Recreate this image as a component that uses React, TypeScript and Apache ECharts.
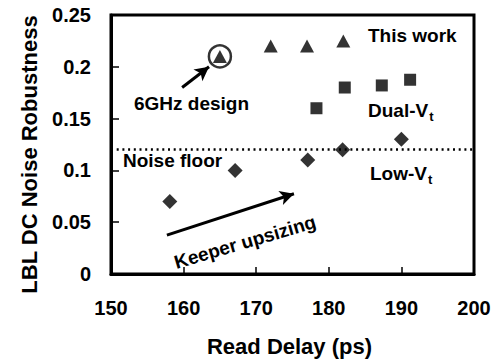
import React, { useEffect, useRef } from "react";
import * as echarts from "echarts";

const xTicks = [150, 160, 170, 180, 190, 200];
const yTicks = [0, 0.05, 0.1, 0.15, 0.2, 0.25];
const thisWork: [number, number][] = [
  [165, 0.21],
  [172, 0.22],
  [177, 0.22],
  [182, 0.225],
];
const dualVt: [number, number][] = [
  [178.3, 0.16],
  [182.2, 0.18],
  [187.3, 0.182],
  [191.2, 0.1875],
];
const lowVt: [number, number][] = [
  [158.1, 0.07],
  [167.1, 0.1],
  [177.1, 0.11],
  [181.9, 0.12],
  [190, 0.13],
];
const highlighted: [number, number][] = [[165, 0.21]];
const noiseFloor = 0.1235;
const arrow6GHz: [number, number][] = [
  [159.8, 0.18],
  [163.5, 0.2],
];
const arrowKeeper: [number, number][] = [
  [157.7, 0.0375],
  [175.2, 0.0775],
];

const FONT = "'Liberation Sans', Arial, Helvetica, sans-serif";

export default function App() {
  const ref = useRef<HTMLDivElement>(null);
  useEffect(() => {
    if (!ref.current) return;
    const chart = echarts.init(ref.current, undefined, { renderer: "svg" });
    const txt = (x: number, y: number, text: string) => ({
      type: "text",
      x,
      y,
      style: {
        text,
        fill: "#000",
        font: `bold 19px ${FONT}`,
        verticalAlign: "middle",
      },
    });
    const rich = {
      a: { fontSize: 19, fontWeight: "bold", fontFamily: FONT, fill: "#000", lineHeight: 22 },
      b: { fontSize: 13, fontWeight: "bold", fontFamily: FONT, fill: "#000", padding: [12, 0, 0, 1] },
    };
    chart.setOption({
      animation: false,
      grid: {
        left: 111,
        right: 22,
        top: 15,
        bottom: 87,
        show: true,
        borderColor: "#000",
        borderWidth: 3,
      },
      xAxis: {
        type: "value",
        min: xTicks[0],
        max: xTicks[xTicks.length - 1],
        interval: 10,
        name: "Read Delay (ps)",
        nameLocation: "middle",
        nameGap: 61,
        nameTextStyle: { fontSize: 22, fontWeight: "bold", fontFamily: FONT, color: "#000", padding: [0, 6, 0, 0] },
        axisLine: { lineStyle: { color: "#000", width: 3 } },
        axisTick: { inside: true, length: 7, lineStyle: { color: "#000", width: 1.5 } },
        axisLabel: { margin: 24, fontSize: 20, fontWeight: "bold", fontFamily: FONT, color: "#000" },
        splitLine: { show: false },
      },
      yAxis: {
        type: "value",
        min: yTicks[0],
        max: yTicks[yTicks.length - 1],
        interval: 0.05,
        name: "LBL DC Noise Robustness",
        nameLocation: "middle",
        nameGap: 71,
        nameTextStyle: {
          fontSize: 22,
          fontWeight: "bold",
          fontFamily: FONT,
          color: "#000",
          padding: [0, 20, 0, 0],
        },
        axisLine: { lineStyle: { color: "#000", width: 3 } },
        axisTick: { inside: true, length: 8, lineStyle: { color: "#000", width: 1.5 } },
        axisLabel: {
          margin: 20,
          fontSize: 20,
          fontWeight: "bold",
          fontFamily: FONT,
          color: "#000",
          formatter: (v: number) => String(Math.round(v * 100) / 100),
        },
        splitLine: { show: false },
      },
      series: [
        {
          type: "scatter",
          name: "This work",
          data: thisWork,
          symbol: "triangle",
          symbolSize: [14, 13],
          itemStyle: { color: "#000" },
          z: 5,
        },
        {
          type: "scatter",
          name: "Dual-Vt",
          data: dualVt,
          symbol: "rect",
          symbolSize: 12,
          itemStyle: { color: "#000" },
        },
        {
          type: "scatter",
          name: "Low-Vt",
          data: lowVt,
          symbol: "diamond",
          symbolSize: 15,
          itemStyle: { color: "#000" },
          markLine: {
            silent: true,
            symbol: ["none", "none"],
            label: { show: false },
            lineStyle: { color: "#000", type: [2, 3.7], width: 2.5 },
            data: [{ yAxis: noiseFloor }],
          },
        },
        {
          type: "scatter",
          name: "6GHz",
          data: highlighted,
          symbol: "circle",
          symbolSize: 22,
          itemStyle: { color: "transparent", borderColor: "#000", borderWidth: 2.5 },
          z: 4,
        },
        {
          type: "scatter",
          name: "arrows",
          data: [],
          markLine: {
            silent: true,
            symbol: ["none", "arrow"],
            symbolSize: [11, 14],
            label: { show: false },
            lineStyle: { color: "#000", type: "solid", width: 3 },
            data: [
              [{ coord: arrow6GHz[0] }, { coord: arrow6GHz[1] }],
              [{ coord: arrowKeeper[0] }, { coord: arrowKeeper[1] }],
            ],
          },
        },
      ],
      graphic: [
        txt(368, 35, "This work"),
        txt(134, 103, "6GHz design"),
        txt(123, 160, "Noise floor"),
        {
          type: "text",
          x: 368,
          y: 110,
          style: { text: "{a|Dual-V}{b|t}", rich, verticalAlign: "middle" },
        },
        {
          type: "text",
          x: 370,
          y: 173,
          style: { text: "{a|Low-V}{b|t}", rich, verticalAlign: "middle" },
        },
        {
          type: "text",
          x: 245,
          y: 242,
          rotation: 0.286,
          style: {
            text: "Keeper upsizing",
            fill: "#000",
            font: `bold 19px ${FONT}`,
            align: "center",
            verticalAlign: "middle",
          },
        },
      ],
    });
    return () => chart.dispose();
  }, []);
  return (
    <div
      ref={ref}
      style={{ position: "absolute", left: 0, top: 0, width: 496, height: 362 }}
    />
  );
}
